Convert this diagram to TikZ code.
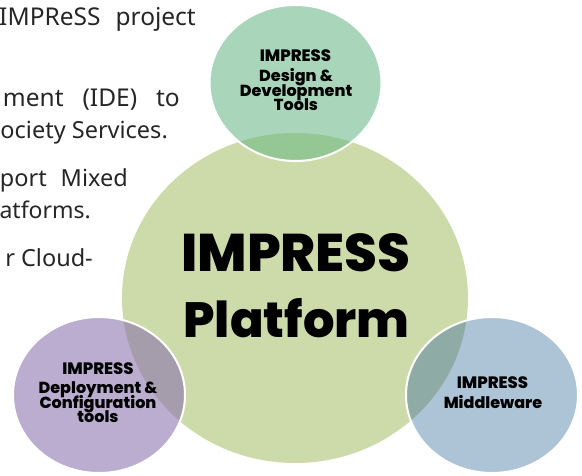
\documentclass[tikz,border=0pt]{standalone}
\usepackage{fontspec}
\setmainfont{Noto Sans}
\newfontfamily\headfont{Poppins}[UprightFont=* ExtraBold]
\usetikzlibrary{shapes.geometric}
\definecolor{mainfill}{HTML}{CDDBAA}
\definecolor{greenfill}{HTML}{A9D6BA}
\definecolor{greenover}{HTML}{95C794}
\definecolor{purplefill}{HTML}{BBADCF}
\definecolor{purpleover}{HTML}{A59CAC}
\definecolor{bluefill}{HTML}{ADC3D6}
\definecolor{blueover}{HTML}{8FABA5}
\tikzset{
  x=1pt,y=-1pt,
  bodytext/.style={anchor=base east,inner sep=0pt,font=\fontsize{23.5}{28}\selectfont,text=black!85},
  bodywide/.style={bodytext,font=\fontsize{24.5}{28}\selectfont},
  smallone/.style={anchor=base,inner sep=0pt,font=\headfont\fontsize{16}{15}\selectfont},
  smalltitle/.style={anchor=base,inner sep=0pt,font=\headfont\fontsize{16.5}{15}\selectfont},
  bighead/.style={inner sep=0pt,font=\headfont\fontsize{53}{60}\selectfont},
  bighead2/.style={inner sep=0pt,font=\headfont\fontsize{49.5}{60}\selectfont}
}
\newcommand{\smallellipse}[5]{% name, cx, cy, fill, overlap
  \fill[#4] (#2,#3) ellipse [x radius=86,y radius=78];
  \begin{scope}
    \clip (#2,#3) ellipse [x radius=86,y radius=78];
    \fill[#5] (295,298) ellipse [x radius=173,y radius=165];
  \end{scope}
  \node[ellipse,draw=white,line width=2pt,minimum width=172pt,minimum height=156pt,inner sep=0pt] (#1) at (#2,#3) {};
}
\begin{document}
\begin{tikzpicture}
\useasboundingbox (0,0) rectangle (582,475);
\clip (0,0) rectangle (582,475);
\node[ellipse,fill=mainfill,minimum width=346pt,minimum height=330pt,inner sep=0pt] (platform) at (295,298) {};
\smallellipse{design}{295.5}{83}{greenfill}{greenover}
\smallellipse{deploy}{99}{395}{purplefill}{purpleover}
\smallellipse{middle}{492}{395}{bluefill}{blueover}
\node[bighead] (t1) at (296,253) {IMPRESS};
\node[bighead2] (t2) at (296.5,318.5) {Platform};
\node[smalltitle] (t3) at (295.5,61.5) {IMPRESS};
\node[smallone] (t4a) at (296,81.5) {Design \&};
\node[smallone] (t4b) at (296,96) {Development};
\node[smallone] (t4c) at (296,110.5) {Tools};
\node[smalltitle] (t5) at (98,374) {IMPRESS};
\node[smallone] (t6a) at (98,393) {Deployment \&};
\node[smallone] (t6b) at (98,408) {Configuration};
\node[smallone] (t6c) at (98,422) {tools};
\node[smalltitle] (t7) at (492.5,388) {IMPRESS};
\node[smallone] (t8) at (493,408) {Middleware};
\node[bodywide] (b1) at (196,25) {IMPReSS\hspace{15pt}project};
\node[bodywide] (b2) at (180,106) {ment\hspace{19pt}(IDE)\hspace{19pt}to};
\node[bodytext] (b3) at (168,138) {ociety Services.};
\node[bodytext] (b4) at (128,186) {port\hspace{14pt}Mixed};
\node[bodytext,font=\fontsize{23}{28}\selectfont] (b5) at (91,218) {atforms.};
\node[bodytext] (b6) at (93,266) {r Cloud-};
\end{tikzpicture}
\end{document}
